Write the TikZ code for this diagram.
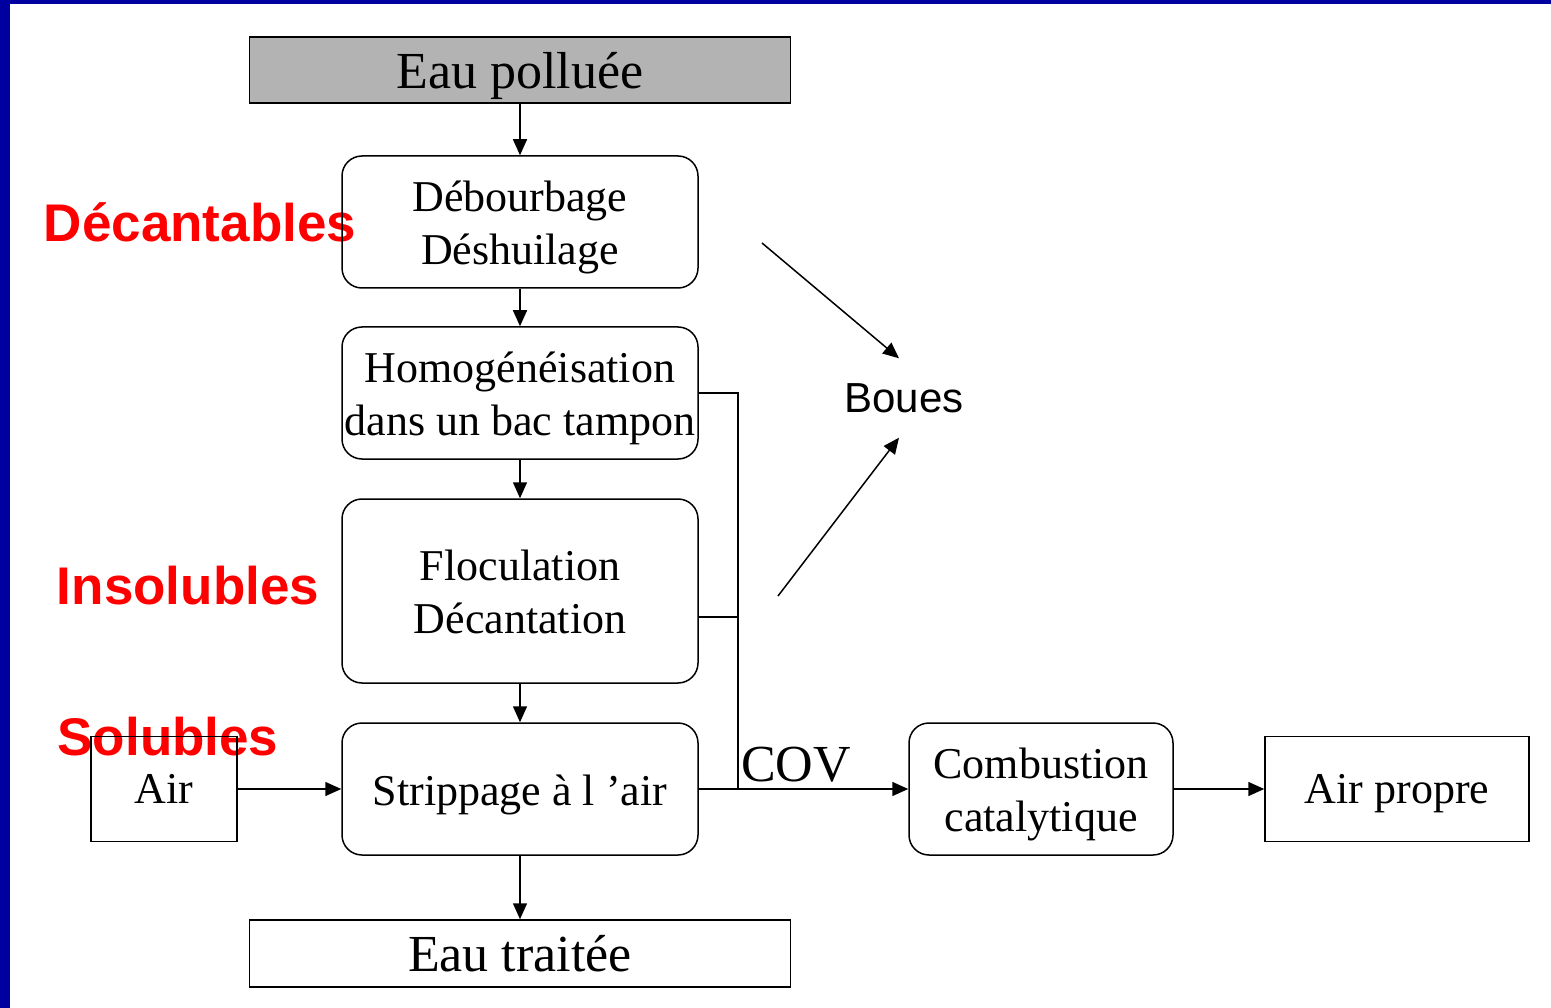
\documentclass[tikz,border=0pt]{standalone}
\usepackage{fontspec}
\setmainfont{Liberation Serif}
\newfontfamily\labelFont{Liberation Sans}
\usetikzlibrary{arrows.meta}
\definecolor{frameBlue}{RGB}{0,0,160}
\definecolor{feedGray}{RGB}{179,179,179}
\definecolor{labelRed}{RGB}{255,0,0}
\newcommand{\boxFont}{\fontsize{44}{53}\selectfont}
\newcommand{\bigFont}{\fontsize{52}{60}\selectfont}

\tikzset{
  procBox/.style={draw, line width=1.5pt, rounded corners=20pt, minimum width=356pt,
    minimum height=132pt, align=center, inner sep=0pt, font=\boxFont,
    text height=95pt, text depth=10pt},
  oneLine/.style={text height=42pt},
  flatBox/.style={draw, line width=1.5pt, align=center, inner sep=0pt, font=\boxFont,
    text depth=0pt},
  redLabel/.style={text=labelRed, inner sep=0pt, font=\labelFont\bfseries\fontsize{53}{60}\selectfont},
  flowArrow/.style={-{Triangle[length=16pt,width=14pt]}, line width=1.5pt},
  busLine/.style={line width=1.5pt},
}

\begin{document}
\begin{tikzpicture}[x=1pt, y=-1pt]
\useasboundingbox (0,0) rectangle (1551,1008);
% frame
\fill[frameBlue] (0,0) rectangle (10,1008);
\fill[frameBlue] (0,0) rectangle (1551,4);

% pollutant classes
\node[redLabel] (decant) at (200,222) {Décantables};
\node[redLabel] (insol) at (188,586) {Insolubles};
\node[redLabel] (solub) at (168,737) {Solubles};

% water line
\node[flatBox, fill=feedGray, minimum width=541pt, minimum height=66pt, font=\bigFont]
  (polluee) at (520,70) {Eau polluée};
\node[procBox] (debourb) at (520,222) {Débourbage\\Déshuilage};
\node[procBox] (homog) at (520,393) {Homogénéisation\\dans un bac tampon};
\node[procBox, minimum height=184pt] (floc) at (520,591) {Floculation\\Décantation};
\node[procBox, oneLine] (strip) at (520,789) {Strippage à l ’air};
\node[flatBox, minimum width=541pt, minimum height=67pt, font=\bigFont]
  (traitee) at (520,953.5) {Eau traitée};

% air line
\node[flatBox, minimum width=146pt, minimum height=105pt] (air) at (164,789) {Air};
\node[procBox, minimum width=264pt] (comb) at (1041,789) {Combustion\\catalytique};
\node[flatBox, minimum width=264pt, minimum height=105pt] (propre) at (1397,789) {Air propre};
\node[anchor=base west, inner sep=0pt, font=\bigFont] (cov) at (741,781) {COV};

% sludge
\node[inner sep=0pt, minimum height=79pt, font=\labelFont\fontsize{42}{50}\selectfont]
  (boues) at (904,398) {Boues};
\coordinate (sludgeTop) at (762,243);
\coordinate (sludgeLow) at (778,596);

\coordinate (busMid) at (738,617);
\coordinate (busFoot) at (738,789);

\draw[flowArrow] (polluee) -- (debourb);
\draw[flowArrow] (debourb) -- (homog);
\draw[flowArrow] (homog) -- (floc);
\draw[flowArrow] (floc) -- (strip);
\draw[flowArrow] (strip) -- (traitee);
\draw[flowArrow] (air) -- (strip);
\draw[flowArrow] (strip) -- (comb);
\draw[flowArrow] (comb) -- (propre);
\draw[busLine] (homog.east) -| (busFoot);
\draw[busLine] (floc.east |- busMid) -- (busMid);
\draw[flowArrow] (sludgeTop) -- ([xshift=-5pt]boues.north);
\draw[flowArrow] (sludgeLow) -- ([xshift=-5pt]boues.south);
\end{tikzpicture}
\end{document}
